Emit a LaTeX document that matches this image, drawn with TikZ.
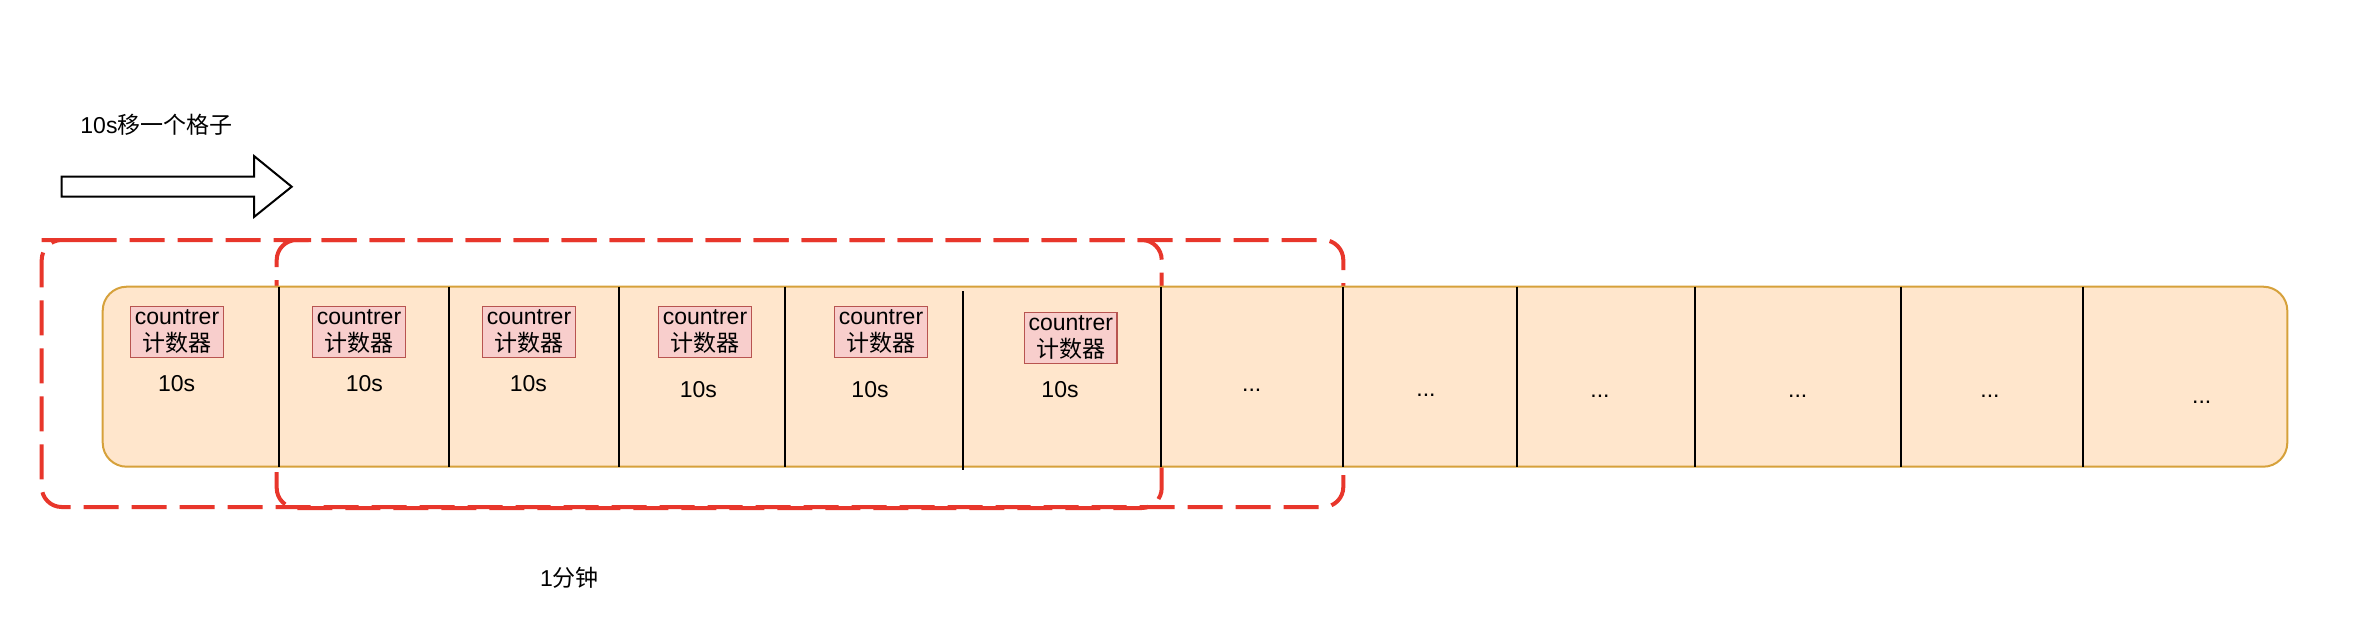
\documentclass[tikz,border=0pt]{standalone}
\usepackage{fontspec}
\setmainfont{Liberation Sans}
\newfontfamily\cjk{Noto Sans CJK SC}
\definecolor{barfill}{HTML}{FFE6CC}
\definecolor{barline}{HTML}{D6A13B}
\definecolor{ctrfill}{HTML}{F8CECC}
\definecolor{ctrline}{HTML}{B85450}
\definecolor{winred}{HTML}{E8362B}
\tikzset{
  txt/.style={font=\fontsize{23}{27}\selectfont, inner sep=0pt},
  counter/.style={txt, draw=ctrline, fill=ctrfill, line width=1.5pt,
    minimum width=92.6pt, minimum height=50.7pt, align=center},
  win/.style={draw=winred, line width=4pt, dash pattern=on 35pt off 13pt,
    rounded corners=20pt},
  sep/.style={line width=1.8pt},
}

\begin{document}
\begin{tikzpicture}[x=1pt,y=-1pt]
\useasboundingbox (0,0) rectangle (2358,630);
% arrow and its text
\node[txt] (title) at (156.5,125) {10s{\cjk 移一个格子}};
\draw[line width=2pt, fill=white] (61.7,176.7) -- (254,176.7) -- (254,156) -- (291.7,186.7)
	-- (254,217) -- (254,196.7) -- (61.7,196.7) -- cycle;
% the two windows, top dashes in step
\draw[win] (61.7,240) -- (1343.3,240) -- (1343.3,507) -- (41.7,507) -- (41.7,240) -- cycle;
\draw[win] (301.7,240) -- (1161.7,240) -- (1161.7,508) -- (276.7,508) -- (276.7,240) -- cycle;
% the bar of cells
\draw[draw=barline, fill=barfill, line width=2pt, rounded corners=24pt] (102.7,286.7) rectangle (2287.3,466.7);
\draw[sep] (278.7,286.7) -- (278.7,466.7);
\draw[sep] (449,286.7) -- (449,466.7);
\draw[sep] (619,286.7) -- (619,466.7);
\draw[sep] (785,286.7) -- (785,466.7);
\draw[sep] (963,291) -- (963,470);
\draw[sep] (1161,286.7) -- (1161,466.7);
\draw[sep] (1342.7,286.7) -- (1342.7,466.7);
\draw[sep] (1517,286.7) -- (1517,466.7);
\draw[sep] (1695,286.7) -- (1695,466.7);
\draw[sep] (1900.7,286.7) -- (1900.7,466.7);
\draw[sep] (2083.3,286.7) -- (2083.3,466.7);
% counters
\node[counter] (c1) at (177,332) {countrer\\{\cjk 计数器}};
\node[counter] (c2) at (359,332) {countrer\\{\cjk 计数器}};
\node[counter] (c3) at (529,332) {countrer\\{\cjk 计数器}};
\node[counter] (c4) at (705,332) {countrer\\{\cjk 计数器}};
\node[counter] (c5) at (881,332) {countrer\\{\cjk 计数器}};
\node[counter] (c6) at (1070.8,338) {countrer\\{\cjk 计数器}};
\node[txt] (s1) at (176.7,384) {10s};
\node[txt] (s2) at (364.3,384) {10s};
\node[txt] (s3) at (528.3,384) {10s};
\node[txt] (s4) at (698.3,390) {10s};
\node[txt] (s5) at (870,390) {10s};
\node[txt] (s6) at (1060,390) {10s};
% empty cells
\node[txt] (d1) at (1251.7,390) {...};
\node[txt] (d2) at (1426,395) {...};
\node[txt] (d3) at (1600,396) {...};
\node[txt] (d4) at (1797.7,396) {...};
\node[txt] (d5) at (1990,396) {...};
\node[txt] (d6) at (2201.7,402) {...};
\node[txt] (min) at (569.5,578.3) {1{\cjk 分钟}};
\end{tikzpicture}
\end{document}
